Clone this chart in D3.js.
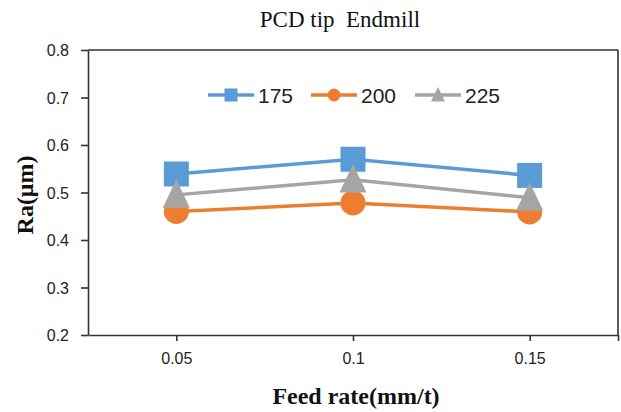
<!DOCTYPE html>
<html>
<head>
<meta charset="utf-8">
<script src="https://cdn.jsdelivr.net/npm/d3@7"></script>
<style>
  html, body { margin: 0; padding: 0; background: #fff; }
  svg { display: block; }
</style>
</head>
<body>
<svg id="chart" width="621" height="412"></svg>
<script>
// ---- data ----
const feedRates = [0.05, 0.1, 0.15];
const seriesNames = ["175", "200", "225"];
const values175 = [0.539, 0.570, 0.536];
const values200 = [0.460, 0.478, 0.459];
const values225 = [0.495, 0.527, 0.489];
const yTicks = [0.2, 0.3, 0.4, 0.5, 0.6, 0.7, 0.8];
const xTickLabels = ["0.05", "0.1", "0.15"];
const colors = ["#5B9BD5", "#ED7D31", "#A5A5A5"];
const markerTypes = ["square", "circle", "triangle"];
const chartTitle = "PCD tip  Endmill";
const xTitle = "Feed rate(mm/t)";
const yTitle = "Ra(μm)";

(function () {
const series = seriesNames.map((name, i) => ({
  name,
  color: colors[i],
  marker: markerTypes[i],
  values: [values175, values200, values225][i]
}));

const svg = d3.select("#chart");
const pLeft = 88, pRight = 618, pTop = 50, pBottom = 335;

const x = d3.scaleLinear().domain([0.025, 0.175]).range([pLeft, pRight]);
const y = d3.scaleLinear().domain([0.2, 0.8]).range([pBottom, pTop]);

const frameColor = "#333";
const tickFont = "'Liberation Sans', Arial, sans-serif";

// frame (top and right borders)
svg.append("line").attr("x1", pLeft).attr("x2", pRight).attr("y1", pTop).attr("y2", pTop)
  .attr("stroke", frameColor).attr("stroke-width", 1.6);
svg.append("line").attr("x1", pRight).attr("x2", pRight).attr("y1", pTop).attr("y2", pBottom)
  .attr("stroke", frameColor).attr("stroke-width", 1.6);

// y axis
const yAxis = svg.append("g").attr("transform", `translate(${pLeft},0)`)
  .call(d3.axisLeft(y).tickValues(yTicks).tickSize(7).tickSizeOuter(0).tickFormat(d3.format(".1f")));
yAxis.select(".domain").attr("stroke", frameColor).attr("stroke-width", 1.6);
yAxis.selectAll(".tick line").attr("stroke", frameColor).attr("stroke-width", 1.6);
yAxis.selectAll(".tick text").attr("x", -19).attr("dy", "0.36em")
  .attr("font-family", tickFont).attr("font-size", 16).attr("fill", "#222");

// x axis
const xTickVals = feedRates.concat([0.175]);
const xAxis = svg.append("g").attr("transform", `translate(0,${pBottom})`)
  .call(d3.axisBottom(x).tickValues(xTickVals).tickSize(6).tickSizeOuter(0)
    .tickFormat((d, i) => i < xTickLabels.length ? xTickLabels[i] : ""));
xAxis.select(".domain").attr("stroke", frameColor).attr("stroke-width", 1.6);
xAxis.selectAll(".tick line").attr("stroke", frameColor).attr("stroke-width", 1.6);
xAxis.selectAll(".tick text").attr("y", 18).attr("dy", "0.71em")
  .attr("font-family", tickFont).attr("font-size", 16).attr("fill", "#222");

// marker drawing helper
function drawMarker(g, type, cx, cy, size, color) {
  if (type === "square") {
    g.append("rect").attr("x", cx - size / 2).attr("y", cy - size / 2)
      .attr("width", size).attr("height", size).attr("fill", color);
  } else if (type === "circle") {
    g.append("circle").attr("cx", cx).attr("cy", cy).attr("r", size / 2).attr("fill", color);
  } else {
    const h = size * 1.05;
    const w = size;
    g.append("path")
      .attr("d", `M${cx},${cy - h * 0.55} L${cx + w / 2},${cy + h * 0.45} L${cx - w / 2},${cy + h * 0.45} Z`)
      .attr("fill", color);
  }
}

// series
const line = d3.line().x((d, i) => x(feedRates[i])).y(d => y(d));
const markerSize = { square: 25, circle: 25, triangle: 27 };
series.forEach(s => {
  const g = svg.append("g");
  g.append("path").datum(s.values).attr("d", line)
    .attr("fill", "none").attr("stroke", s.color).attr("stroke-width", 3.5);
  s.values.forEach((v, i) => drawMarker(g, s.marker, x(feedRates[i]), y(v), markerSize[s.marker], s.color));
});

// legend
const legendX = [208, 311, 415];
const legendY = 95;
const legendMarker = { square: 13, circle: 13, triangle: 14 };
series.forEach((s, i) => {
  const g = svg.append("g");
  g.append("line").attr("x1", legendX[i]).attr("x2", legendX[i] + 46)
    .attr("y1", legendY).attr("y2", legendY)
    .attr("stroke", s.color).attr("stroke-width", 3.5);
  drawMarker(g, s.marker, legendX[i] + 23, legendY, legendMarker[s.marker], s.color);
  g.append("text").attr("x", legendX[i] + 50).attr("y", legendY).attr("dy", "0.36em")
    .attr("font-family", tickFont).attr("font-size", 21).attr("fill", "#222")
    .text(s.name);
});

// titles
svg.append("text").attr("x", 340).attr("y", 27).attr("text-anchor", "middle")
  .attr("font-family", "'Liberation Serif', 'Times New Roman', serif").attr("font-size", 23)
  .attr("fill", "#111").style("white-space", "pre").text(chartTitle);

svg.append("text").attr("x", 356).attr("y", 404).attr("text-anchor", "middle")
  .attr("font-family", "'Liberation Serif', 'Times New Roman', serif").attr("font-size", 24)
  .attr("font-weight", "bold").attr("fill", "#111").text(xTitle);

svg.append("text").attr("transform", "translate(33,195) rotate(-90)").attr("text-anchor", "middle")
  .attr("font-family", "'Liberation Serif', 'Times New Roman', serif").attr("font-size", 24)
  .attr("font-weight", "bold").attr("fill", "#111").text(yTitle);
})();
</script>
</body>
</html>
